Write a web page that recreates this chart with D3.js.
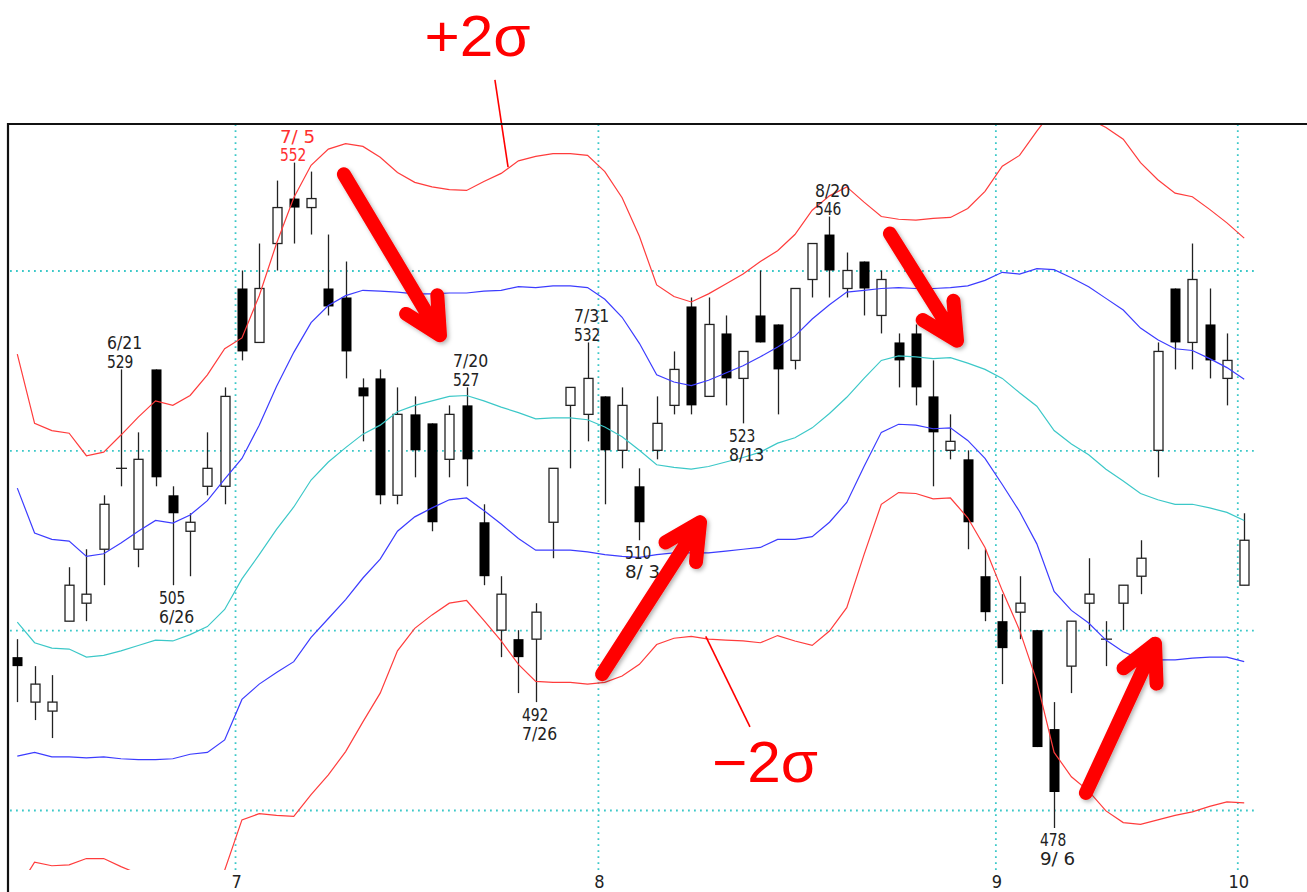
<!DOCTYPE html>
<html lang="ja">
	<head>
		<meta charset="utf-8">
		<title>Bollinger Bands</title>
		<script type="text/javascript" src="https://cdn.jsdelivr.net/npm/d3@7/dist/d3.min.js"></script>
		<style type="text/css">
			body { margin: 0; background: #fff; }
			svg { display: block; }
		</style>
	</head>
	<body>
		<script>
			// daily candles, 6/13 .. 10/1 (index = trading day)
			var opens = [497,492,491,501,503,509,518,509,529,515,
				511,516,516,538,532,543,548,547,538,537,
				527,528,515,524,523,519,525,512,500,499,
				499,512,525,524,526,520,516,520,525,536,
				526,533,528,535,534,530,539,544,538,541,
				535,532,533,526,520,519,506,501,502,500,
				489,496,503,499,503,506,520,538,532,534,
				528,505];
			var highs = [499,496,495,507,509,515,529,522,529,516,
				513,522,527,540,543,550,552,551,544,541,
				528,529,527,526,523,525,527,514,506,500,
				503,518,527,532,526,527,518,526,531,537,
				537,535,531,540,534,538,543,546,542,541,
				540,533,534,530,524,520,509,504,506,500,
				492,501,508,501,505,510,532,538,543,538,
				533,513];
			var lows = [492,490,488,501,501,505,516,507,516,505,
				506,515,514,530,532,540,543,544,535,528,
				521,514,514,517,511,517,516,505,497,493,
				492,508,518,521,514,518,510,519,524,524,
				526,525,523,532,524,529,537,537,537,535,
				533,527,525,516,519,509,501,494,499,487,
				478,493,500,496,500,504,517,529,529,528,
				525,505];
			var closes = [496,494,492,505,504,514,518,519,517,513,
				512,518,526,531,538,547,547,548,536,531,
				526,515,524,520,512,524,519,506,504,497,
				502,518,527,528,520,525,512,523,529,525,
				534,528,531,532,529,538,543,540,540,538,
				539,530,527,522,521,512,502,498,503,487,
				482,501,504,499,505,508,531,532,539,530,
				530,510];

			var ma = [500.9,498.6,498.0,497.9,497.0,497.2,497.7,498.3,498.9,498.8,
				499.5,500.4,502.3,505.7,508.4,511.2,513.7,516.7,518.7,520.3,
				521.8,522.8,524.3,525.0,525.5,526.0,526.1,525.5,524.8,524.2,
				523.5,523.6,523.6,523.4,522.6,521.5,520.0,518.4,518.1,517.9,
				518.2,518.7,519.2,519.8,520.8,521.4,522.5,524.1,525.9,528.0,
				530.0,530.5,530.4,530.2,530.3,529.7,529.0,528.0,526.4,524.9,
				522.2,520.7,519.5,517.9,516.6,515.2,514.5,514.0,514.0,513.6,
				513.1,512.2];
			var sigma = [14.9,12.2,12.1,12.0,11.2,11.3,12.0,12.7,13.3,13.1,
				13.3,14.0,14.5,13.4,14.4,15.9,17.2,17.5,17.4,16.9,
				16.0,14.9,13.3,12.4,11.9,11.5,11.4,12.2,13.0,14.0,
				14.6,14.7,14.7,14.7,14.2,13.3,11.9,10.0,9.5,9.3,
				9.6,9.9,10.2,10.6,10.7,11.3,12.1,12.1,11.7,9.8,
				8.0,7.6,7.6,7.8,7.8,8.6,9.9,11.8,13.2,15.3,
				17.9,18.5,18.7,19.0,19.0,18.4,17.8,17.3,17.1,16.6,
				16.1,15.7];

			var monthStart = [13, 34, 57, 71];
			var monthNames = ["7", "8", "9", "10"];
			var gridPrices = [540, 520, 500, 480];

			// highs / lows that carry a date label
			var markIndex = [6, 9, 16, 26, 30, 33, 36, 42, 47, 60];
			var markDate = ["6/21", "6/26", "7/ 5", "7/20", "7/26", "7/31", "8/ 3", "8/13", "8/20", "9/ 6"];
			var markSide = ["high", "low", "high", "high", "low", "high", "low", "low", "high", "low"];

			// hand drawn annotations, in (day index, price)
			var arrowFrom = [[18.9, 550.7], [33.84, 495.1], [50.5, 544.1], [61.84, 481.9]];
			var arrowTo = [[24.46, 532.8], [39.51, 512.0], [54.38, 532.2], [65.84, 498.5]];
			var sigmaText = ["+2σ", "−2σ"];
			var sigmaAt = [[26.63, 563.9], [43.27, 483.1]];
			var leaderFrom = [[27.64, 561.2], [39.84, 499.3]];
			var leaderTo = [[28.4, 551.5], [42.4, 489.25]];

			var width = 1307, height = 892;
			var plot = {left: 8, top: 124, right: 1307, bottom: 870, gridEnd: 1255};
			var labelFont = "'DejaVu Sans Condensed', 'Liberation Sans Narrow', 'DejaVu Sans', sans-serif";

			var x = d3.scaleLinear().domain([0, opens.length - 1]).range([17.3, 1244.2]);
			var y = d3.scaleLinear().domain([480, 540]).range([810, 270.5]);

			var svg = d3.select("body")
				.append("svg")
				.attr("width", width)
				.attr("height", height);

			var defs = svg.append("defs");
			defs.append("clipPath")
				.attr("id", "plotclip")
				.append("rect")
				.attr("x", plot.left + 1)
				.attr("y", plot.top + 1)
				.attr("width", plot.right - plot.left)
				.attr("height", plot.bottom - plot.top - 1);
			defs.append("filter")
				.attr("id", "shadow")
				.attr("x", "-20%").attr("y", "-20%")
				.attr("width", "140%").attr("height", "140%")
				.append("feDropShadow")
				.attr("dx", 2).attr("dy", 2)
				.attr("stdDeviation", 2)
				.attr("flood-color", "#000")
				.attr("flood-opacity", 0.3);

			// dotted grid
			var gridX = svg.append("g")
				.attr("transform", "translate(0," + plot.bottom + ")")
				.call(d3.axisBottom(x)
					.tickValues(monthStart.map(function(d) { return d - 0.4; }))
					.tickFormat(function(d, k) { return monthNames[k]; })
					.tickSize(-(plot.bottom - plot.top))
					.tickPadding(5));
			gridX.select(".domain").remove();
			gridX.selectAll(".tick line")
				.attr("stroke", "#3cc8c8")
				.attr("stroke-width", 1.8)
				.attr("stroke-dasharray", "1.8 4.2");
			gridX.selectAll(".tick text")
				.attr("dx", 1)
				.attr("fill", "#222")
				.style("font-family", labelFont)
				.style("font-size", "18px");

			var gridY = svg.append("g")
				.attr("transform", "translate(" + (plot.left + 2) + ",0)")
				.call(d3.axisLeft(y)
					.tickValues(gridPrices)
					.tickFormat("")
					.tickSize(-(plot.gridEnd - plot.left - 2)));
			gridY.select(".domain").remove();
			gridY.selectAll(".tick line")
				.attr("stroke", "#3cc8c8")
				.attr("stroke-width", 1.8)
				.attr("stroke-dasharray", "1.8 4.2");

			var chart = svg.append("g").attr("clip-path", "url(#plotclip)");

			// candles
			var idx = d3.range(opens.length);
			var cx = function(i) { return Math.round(x(i)) + 0.5; };

			chart.append("g")
				.selectAll("line")
				.data(idx)
				.enter().append("line")
				.attr("x1", cx).attr("x2", cx)
				.attr("y1", function(i) { return y(highs[i]); })
				.attr("y2", function(i) { return y(lows[i]); })
				.attr("stroke", "#222")
				.attr("stroke-width", 1.3);

			chart.append("g")
				.selectAll("rect")
				.data(idx.filter(function(i) { return opens[i] !== closes[i]; }))
				.enter().append("rect")
				.attr("x", function(i) { return closes[i] > opens[i] ? cx(i) - 4.5 : cx(i) - 5; })
				.attr("y", function(i) { return y(Math.max(opens[i], closes[i])); })
				.attr("width", function(i) { return closes[i] > opens[i] ? 9 : 10; })
				.attr("height", function(i) { return Math.abs(y(opens[i]) - y(closes[i])); })
				.attr("fill", function(i) { return closes[i] > opens[i] ? "#fff" : "#000"; })
				.attr("stroke", function(i) { return closes[i] > opens[i] ? "#222" : "none"; })
				.attr("stroke-width", 1.3);

			chart.append("g")
				.selectAll("line")
				.data(idx.filter(function(i) { return opens[i] === closes[i]; }))
				.enter().append("line")
				.attr("x1", function(i) { return cx(i) - 5.5; })
				.attr("x2", function(i) { return cx(i) + 5.5; })
				.attr("y1", function(i) { return y(opens[i]); })
				.attr("y2", function(i) { return y(opens[i]); })
				.attr("stroke", "#222")
				.attr("stroke-width", 1.3);

			// bollinger bands
			var bands = [
				{k: 2, color: "#ff3c3c"},
				{k: 1, color: "#3c3cff"},
				{k: 0, color: "#3cc8c8"},
				{k: -1, color: "#3c3cff"},
				{k: -2, color: "#ff3c3c"}
			];
			bands.forEach(function(b) {
				var line = d3.line()
					.x(function(i) { return x(i); })
					.y(function(i) { return y(ma[i] + b.k * sigma[i]); });
				chart.append("path")
					.datum(idx)
					.attr("d", line)
					.attr("fill", "none")
					.attr("stroke", b.color)
					.attr("stroke-width", 1.2);
			});

			// high / low labels
			var topPrice = d3.max(highs);
			var marks = svg.append("g")
				.style("font-family", labelFont)
				.style("font-size", "18px");
			markIndex.forEach(function(i, k) {
				var isHigh = markSide[k] === "high";
				var price = isHigh ? highs[i] : lows[i];
				var yy = y(price);
				var lines = isHigh ? [markDate[k], String(price)] : [String(price), markDate[k]];
				var base = isHigh ? [yy - 20, yy - 1.5] : [yy + 18.5, yy + 37.5];
				lines.forEach(function(t, j) {
					marks.append("text")
						.attr("x", cx(i) - 14.5)
						.attr("y", base[j])
						.attr("xml:space", "preserve")
						.attr("textLength", t.length * 8.8)
						.attr("lengthAdjust", "spacingAndGlyphs")
						.attr("fill", price === topPrice ? "#ff3030" : "#222")
						.text(t);
				});
			});

			// red arrows
			var arrows = svg.append("g").attr("filter", "url(#shadow)");
			arrowFrom.forEach(function(a, k) {
				var sx = x(a[0]), sy = y(a[1]);
				var tx = x(arrowTo[k][0]), ty = y(arrowTo[k][1]);
				var back = Math.atan2(ty - sy, tx - sx) + Math.PI;
				var spread = 27 * Math.PI / 180, len = 40;
				var w1 = [tx + len * Math.cos(back + spread), ty + len * Math.sin(back + spread)];
				var w2 = [tx + len * Math.cos(back - spread), ty + len * Math.sin(back - spread)];
				arrows.append("path")
					.attr("d", "M" + sx + "," + sy + "L" + tx + "," + ty +
						"M" + w1[0] + "," + w1[1] + "L" + tx + "," + ty + "L" + w2[0] + "," + w2[1])
					.attr("fill", "none")
					.attr("stroke", "#ff0000")
					.attr("stroke-width", 14)
					.attr("stroke-linecap", "round")
					.attr("stroke-linejoin", "round");
			});

			// +2σ / -2σ callouts
			leaderFrom.forEach(function(a, k) {
				svg.append("line")
					.attr("x1", x(a[0])).attr("y1", y(a[1]))
					.attr("x2", x(leaderTo[k][0])).attr("y2", y(leaderTo[k][1]))
					.attr("stroke", "#ff0000")
					.attr("stroke-width", 1.6);
			});
			sigmaText.forEach(function(t, k) {
				svg.append("text")
					.attr("x", x(sigmaAt[k][0]))
					.attr("y", y(sigmaAt[k][1]))
					.attr("text-anchor", "middle")
					.attr("textLength", 106)
					.attr("lengthAdjust", "spacingAndGlyphs")
					.attr("fill", "#ff0000")
					.style("font-family", "'Liberation Sans', Arial, sans-serif")
					.style("font-size", "57px")
					.text(t);
			});

			// frame (left and top only)
			svg.append("path")
				.attr("d", "M" + plot.left + "," + height + "V" + plot.top + "H" + plot.right)
				.attr("fill", "none")
				.attr("stroke", "#111")
				.attr("stroke-width", 2.2);
		</script>
	</body>
</html>
